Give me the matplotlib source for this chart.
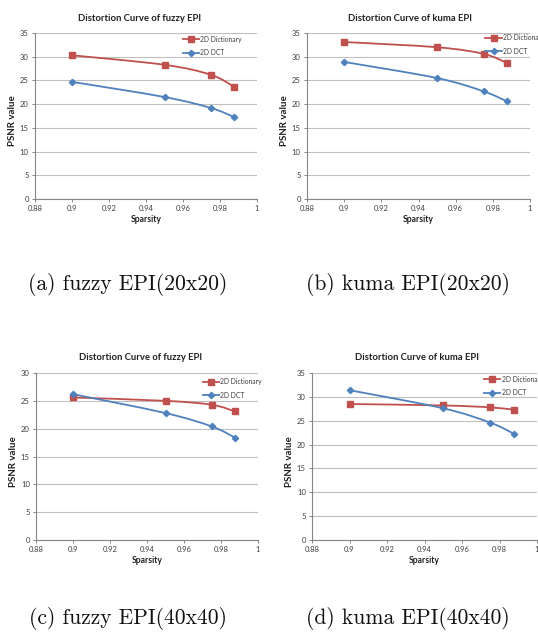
import matplotlib
matplotlib.use("Agg")
import matplotlib.pyplot as plt
from matplotlib.path import Path
from matplotlib.patches import PathPatch
from matplotlib.lines import Line2D
import numpy as np

# sparsity levels shared by all four panels
sparsity = [0.9, 0.95, 0.975, 0.9875]

# PSNR values
dict_a = [30.3, 28.3, 26.2, 23.7]
dct_a = [24.7, 21.5, 19.2, 17.3]
dict_b = [33.1, 32.0, 30.6, 28.7]
dct_b = [28.9, 25.5, 22.7, 20.6]
dict_c = [25.6, 25.0, 24.3, 23.1]
dct_c = [26.2, 22.8, 20.4, 18.4]
dict_d = [28.5, 28.2, 27.8, 27.3]
dct_d = [31.4, 27.6, 24.6, 22.3]

titles = ["Distortion Curve of fuzzy EPI", "Distortion Curve of kuma EPI",
          "Distortion Curve of fuzzy EPI", "Distortion Curve of kuma EPI"]
captions = ["(a) fuzzy EPI(20x20)", "(b) kuma EPI(20x20)",
            "(c) fuzzy EPI(40x40)", "(d) kuma EPI(40x40)"]
ymax = [35, 35, 30, 35]
series_names = ["2D Dictionary", "2D DCT"]

RED = "#C0504D"
BLUE = "#4F81BD"
TXT = "#404040"
font = "Lato"


def smooth_path(x, y):
    # Excel-like smoothed line: bezier segments through the points
    pts = np.column_stack([x, y])
    n = len(pts)
    verts = [pts[0]]
    codes = [Path.MOVETO]
    for i in range(n - 1):
        p0 = pts[max(i - 1, 0)]
        p1 = pts[i]
        p2 = pts[i + 1]
        p3 = pts[min(i + 2, n - 1)]
        c1 = p1 + (p2 - p0) / 6.0
        c2 = p2 - (p3 - p1) / 6.0
        verts += [c1, c2, p2]
        codes += [Path.CURVE4] * 3
    return Path(verts, codes)


W, H = 538, 634
fig = plt.figure(figsize=(W / 100, H / 100), dpi=100)

# axes boxes in pixels: left, top, right, bottom
boxes = [(35, 33, 257, 199), (307, 33, 530, 199),
         (36, 373, 258, 540), (312, 373, 537, 540)]
title_cx = [140, 410, 141, 417]
legend_pos = [(0.65, 1.005), (0.785, 1.015), (0.735, 0.99), (0.75, 1.005)]
cap_pos = [(128, 284), (408, 284), (128, 619), (408, 619)]

data = [(dict_a, dct_a), (dict_b, dct_b), (dict_c, dct_c), (dict_d, dct_d)]

for k in range(4):
    l, t, r, b = boxes[k]
    ax = fig.add_axes([l / W, 1 - b / H, (r - l) / W, (b - t) / H])
    dic, dct = data[k]

    for vals, col in [(dic, RED), (dct, BLUE)]:
        ax.add_patch(PathPatch(smooth_path(sparsity, vals), fill=False,
                               edgecolor=col, lw=1.3, zorder=3))
    ax.plot(sparsity, dic, ls="none", marker="s", ms=4.6, color=RED, zorder=4)
    ax.plot(sparsity, dct, ls="none", marker="D", ms=3.2, color=BLUE, zorder=4)

    ax.set_xlim(0.88, 1.0)
    ax.set_ylim(0, ymax[k])
    ax.set_xticks(np.arange(0.88, 1.001, 0.02))
    ax.set_xticklabels(["0.88", "0.9", "0.92", "0.94", "0.96", "0.98", "1"])
    ax.set_yticks(np.arange(0, ymax[k] + 1, 5))
    ax.yaxis.grid(True, color="#BFBFBF", lw=0.8)
    ax.set_axisbelow(True)
    for s in ["top", "right"]:
        ax.spines[s].set_visible(False)
    for s in ["left", "bottom"]:
        ax.spines[s].set_color("#868686")
        ax.spines[s].set_linewidth(0.8)
    ax.tick_params(direction="out", length=2.5, width=0.7, color="#868686",
                   labelsize=5.5, labelcolor=TXT, pad=2)
    for lab in ax.get_xticklabels() + ax.get_yticklabels():
        lab.set_family(font)

    ax.set_title(titles[k], fontsize=6.8, fontweight="bold", family=font,
                 color="#202020", pad=9, x=(title_cx[k] - l) / (r - l))
    ax.set_xlabel("Sparsity", fontsize=6.2, fontweight="bold", family=font,
                  color="#202020", labelpad=2)
    ax.set_ylabel("PSNR value", fontsize=7, fontweight="bold", family=font,
                  color="#202020")
    ax.yaxis.set_label_coords(-0.08, 0.47)

    handles = [Line2D([], [], color=RED, lw=1.3, marker="s", ms=4.6),
               Line2D([], [], color=BLUE, lw=1.3, marker="D", ms=3.2)]
    leg = ax.legend(handles, series_names, loc="upper left",
                    bbox_to_anchor=legend_pos[k], frameon=False,
                    prop={"family": font, "size": 4.9}, borderpad=0,
                    handlelength=2.4, handletextpad=0.2, labelspacing=1.0)
    for txt in leg.get_texts():
        txt.set_color(TXT)
    leg.set_clip_on(False)

    cx, cy = cap_pos[k]
    fig.text(cx / W, 1 - cy / H, captions[k], ha="center", va="center",
             family="cmr10", fontsize=15.5, color="#111111")

fig.savefig("out.png", dpi=100)
